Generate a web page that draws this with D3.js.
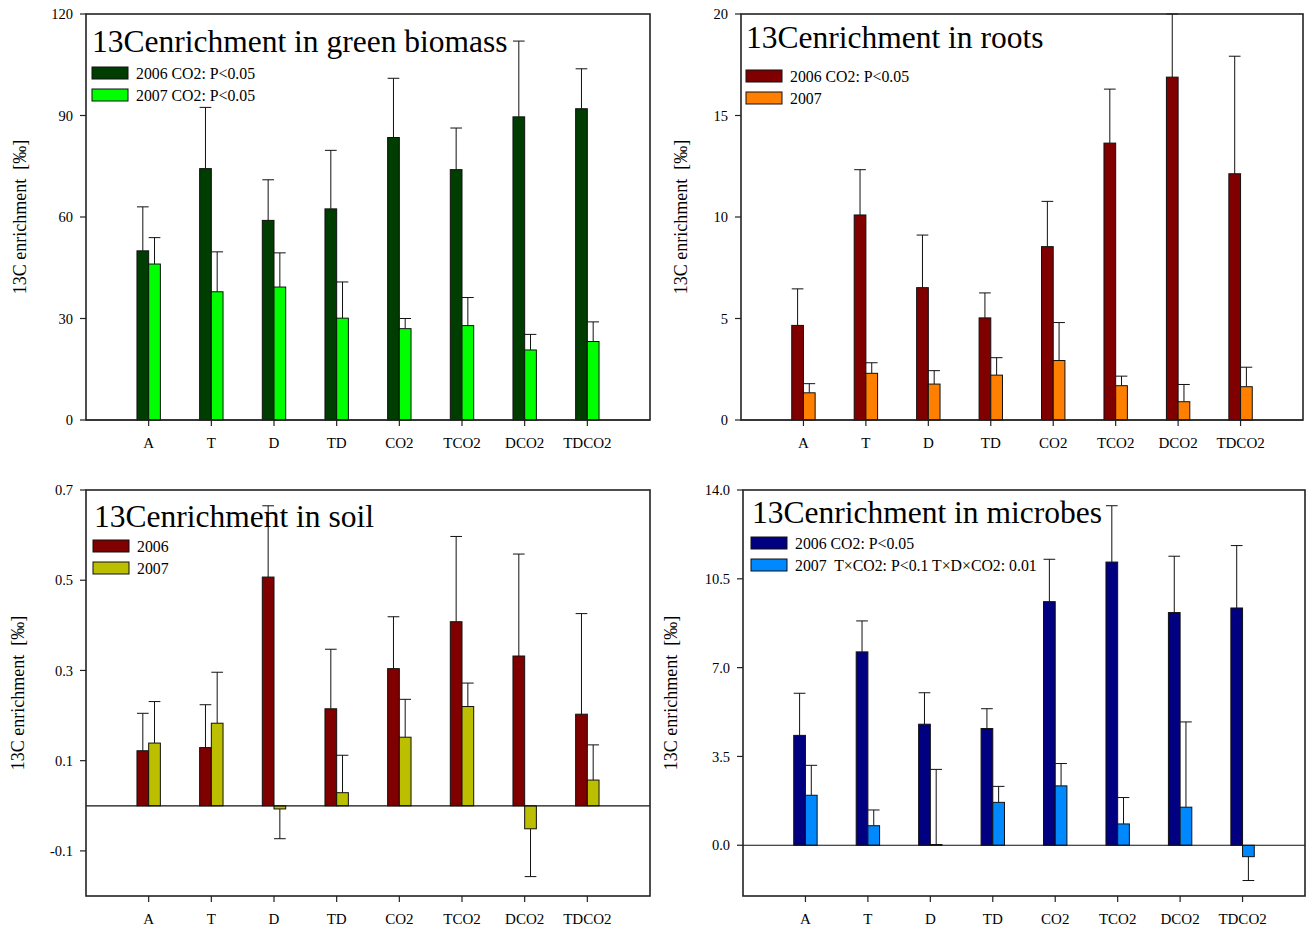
<!DOCTYPE html>
<html>
<head>
<meta charset="utf-8">
<script src="https://cdn.jsdelivr.net/npm/d3@7"></script>
<style>
body { margin: 0; background: #fff; }
svg text { font-family: "Liberation Serif", "Times New Roman", serif; fill: #000; white-space: pre; }
</style>
</head>
<body>
<svg id="chart" width="1311" height="929"></svg>
<script>
var categories = ["A", "T", "D", "TD", "CO2", "TCO2", "DCO2", "TDCO2"];

// green biomass
var biomass2006 = [50.0, 74.3, 59.0, 62.4, 83.5, 74.0, 89.6, 92.0];
var biomass2006se = [13.0, 18.1, 12.0, 17.3, 17.5, 12.3, 22.4, 11.8];
var biomass2007 = [46.1, 37.9, 39.3, 30.1, 27.0, 27.9, 20.7, 23.2];
var biomass2007se = [7.8, 11.8, 10.1, 10.7, 3.0, 8.3, 4.6, 5.8];
var biomassTicks = [0, 30, 60, 90, 120];
var biomassTickLabels = ["0", "30", "60", "90", "120"];

// roots
var roots2006 = [4.66, 10.1, 6.52, 5.03, 8.54, 13.64, 16.89, 12.13];
var roots2006se = [1.80, 2.23, 2.59, 1.23, 2.23, 2.66, 3.11, 5.79];
var roots2007 = [1.34, 2.30, 1.77, 2.21, 2.93, 1.69, 0.90, 1.64];
var roots2007se = [0.45, 0.52, 0.66, 0.86, 1.87, 0.47, 0.85, 0.96];
var rootsTicks = [0, 5, 10, 15, 20];
var rootsTickLabels = ["0", "5", "10", "15", "20"];

// soil
var soil2006 = [0.122, 0.129, 0.507, 0.215, 0.304, 0.408, 0.332, 0.203];
var soil2006se = [0.083, 0.095, 0.158, 0.132, 0.115, 0.189, 0.226, 0.223];
var soil2007 = [0.139, 0.183, -0.007, 0.029, 0.152, 0.220, -0.051, 0.057];
var soil2007se = [0.092, 0.113, 0.066, 0.083, 0.084, 0.052, 0.106, 0.078];
var soilTicks = [-0.1, 0.1, 0.3, 0.5, 0.7];
var soilTickLabels = ["-0.1", "0.1", "0.3", "0.5", "0.7"];

// microbes
var microbes2006 = [4.33, 7.62, 4.77, 4.60, 9.60, 11.16, 9.17, 9.35];
var microbes2006se = [1.66, 1.22, 1.24, 0.78, 1.67, 2.22, 2.22, 2.46];
var microbes2007 = [1.97, 0.77, 0.03, 1.69, 2.34, 0.84, 1.50, -0.45];
var microbes2007se = [1.18, 0.62, 2.96, 0.63, 0.88, 1.04, 3.36, 0.94];
var microbesTicks = [0, 3.5, 7, 10.5, 14];
var microbesTickLabels = ["0.0", "3.5", "7.0", "10.5", "14.0"];

var svg = d3.select("#chart");

function drawPanel(p) {
    var g = svg.append("g");

    var x = d3.scaleLinear()
        .domain([0, categories.length + 1])
        .range([p.left, p.right]);
    var y = d3.scaleLinear()
        .domain(p.domain)
        .range([p.bottom, p.top]);
    var barW = 11.7;

    // y axis ticks + labels
    g.selectAll(".ytick")
        .data(p.ticks)
        .enter()
        .append("line")
        .attr("x1", p.left - 6)
        .attr("x2", p.left)
        .attr("y1", function (d) { return y(d); })
        .attr("y2", function (d) { return y(d); })
        .attr("stroke", "#222")
        .attr("stroke-width", 1.2);

    g.selectAll(".ylab")
        .data(p.ticks)
        .enter()
        .append("text")
        .attr("x", p.left - 13)
        .attr("y", function (d) { return y(d); })
        .attr("dy", "0.35em")
        .attr("text-anchor", "end")
        .style("font-size", "14.5px")
        .text(function (d, i) { return p.tickLabels[i]; });

    // x ticks + category labels
    g.selectAll(".xtick")
        .data(categories)
        .enter()
        .append("line")
        .attr("x1", function (d, i) { return x(i + 1); })
        .attr("x2", function (d, i) { return x(i + 1); })
        .attr("y1", p.bottom)
        .attr("y2", p.bottom + 6)
        .attr("stroke", "#222")
        .attr("stroke-width", 1.2);

    g.selectAll(".xlab")
        .data(categories)
        .enter()
        .append("text")
        .attr("x", function (d, i) { return x(i + 1); })
        .attr("y", p.bottom + 28)
        .attr("text-anchor", "middle")
        .style("font-size", "15px")
        .text(function (d) { return d; });

    // bars, 2006 left of tick, 2007 right
    var series = [
        {vals: p.s2006, se: p.se2006, color: p.c2006, off: -barW},
        {vals: p.s2007, se: p.se2007, color: p.c2007, off: 0}
    ];
    series.forEach(function (s) {
        var rows = s.vals.map(function (v, i) { return {i: i, v: v, se: s.se[i]}; });

        g.selectAll(null)
            .data(rows)
            .enter()
            .append("line")
            .attr("x1", function (d) { return x(d.i + 1) + s.off + barW / 2; })
            .attr("x2", function (d) { return x(d.i + 1) + s.off + barW / 2; })
            .attr("y1", function (d) { return y(d.v); })
            .attr("y2", function (d) { return y(d.v + (d.v < 0 ? -d.se : d.se)); })
            .attr("stroke", "#111")
            .attr("stroke-width", 1);

        g.selectAll(null)
            .data(rows)
            .enter()
            .append("line")
            .attr("x1", function (d) { return x(d.i + 1) + s.off; })
            .attr("x2", function (d) { return x(d.i + 1) + s.off + barW; })
            .attr("y1", function (d) { return y(d.v + (d.v < 0 ? -d.se : d.se)); })
            .attr("y2", function (d) { return y(d.v + (d.v < 0 ? -d.se : d.se)); })
            .attr("stroke", "#111")
            .attr("stroke-width", 1);

        g.selectAll(null)
            .data(rows)
            .enter()
            .append("rect")
            .attr("x", function (d) { return x(d.i + 1) + s.off; })
            .attr("y", function (d) { return y(Math.max(0, d.v)); })
            .attr("width", barW)
            .attr("height", function (d) { return Math.abs(y(d.v) - y(0)); })
            .attr("fill", s.color)
            .attr("stroke", "#111")
            .attr("stroke-width", 1);
    });

    // zero line
    g.append("line")
        .attr("x1", p.left)
        .attr("x2", p.right)
        .attr("y1", y(0))
        .attr("y2", y(0))
        .attr("stroke", "#111")
        .attr("stroke-width", 1.2);

    // frame
    g.append("rect")
        .attr("x", p.left)
        .attr("y", p.top)
        .attr("width", p.right - p.left)
        .attr("height", p.bottom - p.top)
        .attr("fill", "none")
        .attr("stroke", "#222")
        .attr("stroke-width", 1.6);

    // title
    g.append("text")
        .attr("x", p.titleX)
        .attr("y", p.titleY)
        .style("font-size", "31.5px")
        .text(p.title);

    // legend
    var leg = [
        {color: p.c2006, label: p.leg2006},
        {color: p.c2007, label: p.leg2007}
    ];
    leg.forEach(function (l, k) {
        var cy = p.legY + k * 22;
        g.append("rect")
            .attr("x", p.legX)
            .attr("y", cy - 6)
            .attr("width", 36)
            .attr("height", 12)
            .attr("fill", l.color)
            .attr("stroke", "#111")
            .attr("stroke-width", 1);
        g.append("text")
            .attr("x", p.legX + 44)
            .attr("y", cy)
            .attr("dy", "0.35em")
            .style("font-size", "15.8px")
            .text(l.label);
    });

    // y axis title
    g.append("text")
        .attr("transform", "translate(" + p.ylabX + "," + ((p.top + p.bottom) / 2) + ") rotate(-90)")
        .attr("text-anchor", "middle")
        .attr("dy", "0.35em")
        .style("font-size", "18px")
        .text("13C enrichment  [\u2030]");
}

drawPanel({
    left: 86, right: 650, top: 14, bottom: 420,
    domain: [0, 120], ticks: biomassTicks, tickLabels: biomassTickLabels,
    s2006: biomass2006, se2006: biomass2006se, s2007: biomass2007, se2007: biomass2007se,
    c2006: "#003d00", c2007: "#00ff00",
    title: "13Cenrichment in green biomass", titleX: 92, titleY: 52,
    leg2006: "2006 CO2: P<0.05", leg2007: "2007 CO2: P<0.05",
    legX: 92, legY: 73, ylabX: 20
});

drawPanel({
    left: 741, right: 1303, top: 14, bottom: 420,
    domain: [0, 20], ticks: rootsTicks, tickLabels: rootsTickLabels,
    s2006: roots2006, se2006: roots2006se, s2007: roots2007, se2007: roots2007se,
    c2006: "#800000", c2007: "#ff8000",
    title: "13Cenrichment in roots", titleX: 746, titleY: 48,
    leg2006: "2006 CO2: P<0.05", leg2007: "2007",
    legX: 746, legY: 76, ylabX: 681
});

drawPanel({
    left: 86, right: 650, top: 490, bottom: 896,
    domain: [-0.2, 0.7], ticks: soilTicks, tickLabels: soilTickLabels,
    s2006: soil2006, se2006: soil2006se, s2007: soil2007, se2007: soil2007se,
    c2006: "#800000", c2007: "#bbbf00",
    title: "13Cenrichment in soil", titleX: 94, titleY: 527,
    leg2006: "2006", leg2007: "2007",
    legX: 93, legY: 546, ylabX: 18
});

drawPanel({
    left: 743, right: 1305, top: 490, bottom: 896,
    domain: [-2, 14], ticks: microbesTicks, tickLabels: microbesTickLabels,
    s2006: microbes2006, se2006: microbes2006se, s2007: microbes2007, se2007: microbes2007se,
    c2006: "#000080", c2007: "#0088ff",
    title: "13Cenrichment in microbes", titleX: 752, titleY: 523,
    leg2006: "2006 CO2: P<0.05", leg2007: "2007  T\u00d7CO2: P<0.1 T\u00d7D\u00d7CO2: 0.01",
    legX: 751, legY: 543, ylabX: 671
});
</script>
</body>
</html>
